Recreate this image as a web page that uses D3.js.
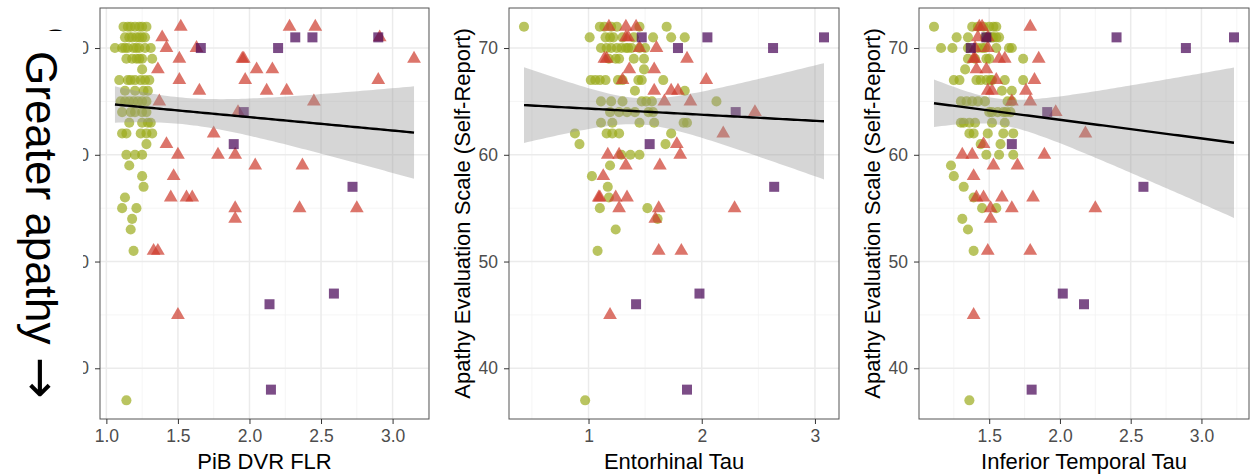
<!DOCTYPE html>
<html>
<head>
<meta charset="utf-8">
<script src="https://cdn.jsdelivr.net/npm/d3@7"></script>
<style>
  body { margin: 0; background: #fff; }
  text { font-family: "Liberation Sans", Arial, Helvetica, sans-serif; }
</style>
</head>
<body>
<div id="chart"></div>
<script>
// 1: GLOBALS
const W = 1251, H = 475;
const panelTop = 8, panelBottom = 419;

const yTicks = [40, 50, 60, 70];

// 2: DATA  ([x, apathy score])
const pibCircle = [
  [1.12,72],[1.15,72],[1.17,72],[1.20,72],[1.23,72],[1.25,72],[1.28,72],
  [1.13,71],[1.16,71],[1.18,71],[1.21,71],[1.23,71],[1.25,71],[1.27,71],
  [1.06,70],[1.11,70],[1.13,70],[1.15,70],[1.19,70],[1.21,70],[1.23,70],[1.27,70],[1.31,70],
  [1.14,69],[1.18,69],[1.21,69],[1.23,69],[1.25,69],[1.32,69],
  [1.25,68],
  [1.09,67],[1.15,67],[1.17,67],[1.20,67],[1.24,67],[1.27,67],[1.30,67],
  [1.13,66],[1.20,66],[1.26,66],[1.29,66],
  [1.10,65],[1.13,65],[1.16,65],[1.19,65],[1.22,65],[1.25,65],[1.28,65],
  [1.11,64],[1.17,64],[1.20,64],[1.25,64],[1.28,64],
  [1.16,63],[1.25,63],[1.29,63],[1.31,63],
  [1.11,62],[1.14,62],[1.24,62],[1.28,62],[1.32,62],
  [1.28,61],
  [1.14,60],[1.20,60],[1.25,60],
  [1.16,59],[1.25,58],[1.26,57],[1.13,56],
  [1.11,55],[1.21,55],
  [1.18,54],[1.17,53],[1.19,51],[1.14,37]
];
const pibTriangle = [
  [1.52,72],[2.28,72],[2.46,72],
  [1.39,71],[2.91,71],
  [1.42,70],[1.63,70],
  [1.51,69],[1.95,69],[1.96,69],[3.15,69],
  [1.36,68],[2.05,68],[2.16,68],
  [1.51,67],[1.97,67],[2.90,67],
  [1.65,66],[2.12,66],[2.26,66],
  [1.37,65],[2.45,65],
  [1.92,64],[1.75,62],[1.42,61],
  [1.50,60],[1.78,60],[1.90,60],
  [2.04,59],[2.37,59],
  [1.47,58],
  [1.45,56],[1.56,56],[1.60,56],
  [1.90,55],[2.35,55],[2.75,55],
  [1.90,54],
  [1.33,51],[1.36,51],
  [1.50,45]
];
const pibSquare = [
  [1.66,70],[2.20,70],[2.32,71],[2.44,71],[2.90,71],
  [1.96,64],[1.89,61],[2.72,57],[2.14,46],[2.59,47],[2.15,38]
];

const entCircle = [
  [0.43,72],[1.10,72],[1.14,72],[1.20,72],[1.25,72],[1.45,72],[1.69,72],
  [1.01,71],[1.15,71],[1.19,71],[1.22,71],[1.30,71],[1.40,71],[1.57,71],[1.73,71],[1.85,71],
  [1.11,70],[1.16,70],[1.20,70],[1.25,70],[1.29,70],[1.33,70],[1.35,70],[1.38,70],[1.45,70],[1.50,70],
  [1.18,69],[1.24,69],[1.27,69],[1.40,69],[1.49,69],
  [1.49,68],
  [1.02,67],[1.06,67],[1.10,67],[1.15,67],[1.26,67],[1.30,67],[1.44,67],[1.47,67],[1.66,67],
  [1.41,66],[1.85,66],
  [1.11,65],[1.20,65],[1.30,65],[1.47,65],[1.51,65],[1.56,65],[2.13,65],
  [1.19,64],[1.27,64],[1.34,64],[1.41,64],[1.53,64],[1.57,64],
  [1.11,63],[1.21,63],[1.45,63],[1.58,63],[1.84,63],[1.87,63],
  [0.88,62],[1.16,62],[1.21,62],[1.27,62],[1.73,62],
  [0.92,61],[1.68,61],
  [1.29,60],[1.37,60],[1.45,60],
  [1.19,59],[1.03,58],[1.17,57],[1.18,56],
  [1.10,55],[1.52,55],
  [1.61,54],[1.24,53],[1.08,51],[0.97,37]
];
const entTriangle = [
  [1.18,72],[1.33,72],[1.42,72],
  [1.33,71],[1.35,71],
  [1.45,70],[1.60,70],
  [1.14,69],[1.16,69],[1.87,69],
  [1.36,68],[1.58,68],
  [1.30,67],[2.04,67],
  [1.58,66],[1.73,66],[1.79,66],
  [1.67,65],[1.90,65],
  [2.47,64],[2.19,62],[1.78,61],
  [1.17,60],[1.27,60],[1.81,60],
  [1.33,59],[1.63,59],
  [1.13,58],
  [1.09,56],[1.10,56],[1.24,56],[1.34,56],
  [1.27,55],[1.62,55],[2.29,55],
  [1.59,54],
  [1.62,51],[1.82,51],
  [1.19,45]
];
const entSquare = [
  [1.47,71],[1.79,70],[2.05,71],[2.63,70],[3.08,71],
  [2.30,64],[1.54,61],[2.64,57],[1.42,46],[1.98,47],[1.87,38]
];

const itCircle = [
  [1.11,72],[1.38,72],[1.42,72],[1.46,72],[1.50,72],[1.53,72],[1.55,72],
  [1.27,71],[1.35,71],[1.47,71],[1.49,71],[1.52,71],[1.53,71],[1.55,71],[1.57,71],
  [1.16,70],[1.24,70],[1.35,70],[1.42,70],[1.45,70],[1.47,70],[1.55,70],[1.64,70],[1.66,70],
  [1.35,69],[1.40,69],[1.48,69],[1.50,69],[1.74,69],
  [1.33,68],
  [1.25,67],[1.29,67],[1.41,67],[1.44,67],[1.48,67],[1.51,67],[1.52,67],[1.61,67],[1.74,67],
  [1.59,66],[1.66,66],
  [1.30,65],[1.34,65],[1.38,65],[1.42,65],[1.47,65],[1.63,65],[1.66,65],
  [1.50,64],[1.52,64],[1.56,64],[1.60,64],[1.62,64],[1.65,64],
  [1.30,63],[1.32,63],[1.36,63],[1.40,63],[1.52,63],[1.61,63],
  [1.36,62],[1.39,62],[1.49,62],[1.60,62],[1.67,62],
  [1.44,61],[1.58,61],
  [1.48,60],[1.57,60],[1.67,60],
  [1.23,59],[1.25,58],[1.32,57],[1.39,56],
  [1.45,55],[1.55,55],
  [1.31,54],[1.35,53],[1.39,51],[1.36,37]
];
const itTriangle = [
  [1.43,72],[1.45,72],[1.79,72],
  [1.42,71],[1.49,71],
  [1.40,70],[1.49,70],
  [1.39,69],[1.40,69],[1.57,69],[1.61,69],[1.85,69],
  [1.41,68],[1.48,68],
  [1.55,67],[1.82,67],
  [1.49,66],[1.52,66],[1.76,66],
  [1.66,65],[1.79,65],
  [1.97,64],[2.18,62],[1.46,61],
  [1.31,60],[1.38,60],[1.89,60],
  [1.53,59],[1.70,59],
  [1.39,58],
  [1.41,56],[1.46,56],[1.59,56],[1.81,56],
  [1.51,55],[1.66,55],[2.25,55],
  [1.51,54],
  [1.49,51],[1.79,51],
  [1.39,45]
];
const itSquare = [
  [1.37,70],[1.48,71],[2.40,71],[2.89,70],[3.23,71],
  [1.91,64],[1.66,61],[2.59,57],[2.02,47],[2.17,46],[1.80,38]
];

const xLabels = ["PiB DVR FLR", "Entorhinal Tau", "Inferior Temporal Tau"];
const xTickSets = [[1, 1.5, 2, 2.5, 3], [1, 2, 3], [1.5, 2, 2.5, 3]];
const yLabel = "Apathy Evaluation Scale (Self-Report)";

const colCircle = "#9bab1c", colTriangle = "#cd3a2c", colSquare = "#440154";

const svg = d3.select("#chart").append("svg")
  .attr("width", W).attr("height", H);

const panelX = [[100, 429], [509, 839], [919, 1249]];
const fmts = [d3.format(".1f"), d3.format("d"), d3.format(".1f")];
const groups = [
  [pibCircle, pibTriangle, pibSquare],
  [entCircle, entTriangle, entSquare],
  [itCircle, itTriangle, itSquare]
];

// ggplot style 5% expansion
function expand(ext) {
  const pad = (ext[1] - ext[0]) * 0.05;
  return [ext[0] - pad, ext[1] + pad];
}
function minorOf(major, dom) {
  const step = major[1] - major[0];
  const out = [];
  for (let v = major[0] - step / 2; v <= dom[1] + 1e-9; v += step)
    if (v >= dom[0]) out.push(v);
  return out;
}

const allY = groups.flat(2).map(d => d[1]);
const yDom = expand(d3.extent(allY));
const y = d3.scaleLinear().domain(yDom).range([panelBottom, panelTop]);
const yMinor = minorOf(yTicks, yDom);

groups.forEach((grp, i) => {
  const pts = grp.flat();
  const xDom = expand(d3.extent(pts, d => d[0]));
  const x = d3.scaleLinear().domain(xDom).range(panelX[i]);
  const g = svg.append("g");
  const [x0, x1] = panelX[i];

  // grid
  g.selectAll(".vmin").data(minorOf(xTickSets[i], xDom)).join("line")
    .attr("x1", d => x(d)).attr("x2", d => x(d))
    .attr("y1", panelTop).attr("y2", panelBottom)
    .attr("stroke", "#f3f3f3").attr("stroke-width", 0.8);
  g.selectAll(".hmin").data(yMinor).join("line")
    .attr("x1", x0).attr("x2", x1)
    .attr("y1", d => y(d)).attr("y2", d => y(d))
    .attr("stroke", "#f3f3f3").attr("stroke-width", 0.8);
  g.selectAll(".vmaj").data(xTickSets[i]).join("line")
    .attr("x1", d => x(d)).attr("x2", d => x(d))
    .attr("y1", panelTop).attr("y2", panelBottom)
    .attr("stroke", "#ebebeb").attr("stroke-width", 1.5);
  g.selectAll(".hmaj").data(yTicks).join("line")
    .attr("x1", x0).attr("x2", x1)
    .attr("y1", d => y(d)).attr("y2", d => y(d))
    .attr("stroke", "#ebebeb").attr("stroke-width", 1.5);

  // points
  const circ = d3.symbol(d3.symbolCircle, 80);
  const tri = d3.symbol(d3.symbolTriangle, 82);
  const sq = d3.symbol(d3.symbolSquare, 100);
  g.selectAll(".c").data(grp[0]).join("path")
    .attr("d", circ).attr("transform", d => `translate(${x(d[0])},${y(d[1])})`)
    .attr("fill", colCircle).attr("fill-opacity", 0.7);
  g.selectAll(".t").data(grp[1]).join("path")
    .attr("d", tri).attr("transform", d => `translate(${x(d[0])},${y(d[1])})`)
    .attr("fill", colTriangle).attr("fill-opacity", 0.7);
  g.selectAll(".s").data(grp[2]).join("path")
    .attr("d", sq).attr("transform", d => `translate(${x(d[0])},${y(d[1])})`)
    .attr("fill", colSquare).attr("fill-opacity", 0.7);

  // linear fit with 95% band (like geom_smooth(method = "lm"))
  const n = pts.length;
  const mx = d3.mean(pts, d => d[0]), my = d3.mean(pts, d => d[1]);
  const sxx = d3.sum(pts, d => (d[0] - mx) ** 2);
  const b = d3.sum(pts, d => (d[0] - mx) * (d[1] - my)) / sxx;
  const a = my - b * mx;
  const s = Math.sqrt(d3.sum(pts, d => (d[1] - a - b * d[0]) ** 2) / (n - 2));
  const tq = 1.98;
  const ext = d3.extent(pts, d => d[0]);
  const grid = d3.range(0, 81).map(k => ext[0] + (ext[1] - ext[0]) * k / 80);
  const fit = grid.map(v => {
    const se = s * Math.sqrt(1 / n + (v - mx) ** 2 / sxx);
    const f = a + b * v;
    return { x: v, f, lo: f - tq * se, hi: f + tq * se };
  });
  g.append("path").datum(fit)
    .attr("d", d3.area().x(d => x(d.x)).y0(d => y(d.lo)).y1(d => y(d.hi)))
    .attr("fill", "#999").attr("fill-opacity", 0.4);
  g.append("path").datum(fit)
    .attr("d", d3.line().x(d => x(d.x)).y(d => y(d.f)))
    .attr("fill", "none").attr("stroke", "#000").attr("stroke-width", 2.4);

  // border
  g.append("rect").attr("x", x0).attr("y", panelTop)
    .attr("width", x1 - x0).attr("height", panelBottom - panelTop)
    .attr("fill", "none").attr("stroke", "#555").attr("stroke-width", 1);

  // axes
  const xAxis = g.append("g").attr("transform", `translate(0,${panelBottom})`)
    .call(d3.axisBottom(x).tickValues(xTickSets[i]).tickFormat(fmts[i]).tickSize(5).tickPadding(6));
  const yAxis = g.append("g").attr("transform", `translate(${x0},0)`)
    .call(d3.axisLeft(y).tickValues(yTicks).tickSize(5).tickPadding(6));
  [xAxis, yAxis].forEach(ax => {
    ax.select(".domain").remove();
    ax.selectAll("line").attr("stroke", "#333");
    ax.selectAll("text").attr("fill", "#4d4d4d").style("font-size", "17.5px")
      .style("font-family", '"Liberation Sans", Arial, sans-serif');
  });

  // labels
  g.append("text").attr("x", (x0 + x1) / 2).attr("y", 469)
    .attr("text-anchor", "middle").style("font-size", "22px").attr("fill", "#000")
    .text(xLabels[i]);
  g.append("text")
    .attr("transform", `translate(${x0 - 39},${(panelTop + panelBottom) / 2}) rotate(-90)`)
    .attr("text-anchor", "middle").style("font-size", "22px").attr("fill", "#000")
    .text(yLabel);
});

// overlay covering the first panel's y axis text
svg.append("rect").attr("x", 0).attr("y", 31).attr("width", 83).attr("height", H - 31)
  .attr("fill", "#fff");
const note = svg.append("text")
  .attr("transform", "translate(26,51) rotate(90)")
  .style("font-size", "44px").attr("fill", "#000");
note.append("tspan").text("Greater apathy ");
note.append("tspan").style("font-family", '"DejaVu Sans", sans-serif')
  .style("font-size", "50px").attr("dy", 2).text("\u2192");
</script>
</body>
</html>
